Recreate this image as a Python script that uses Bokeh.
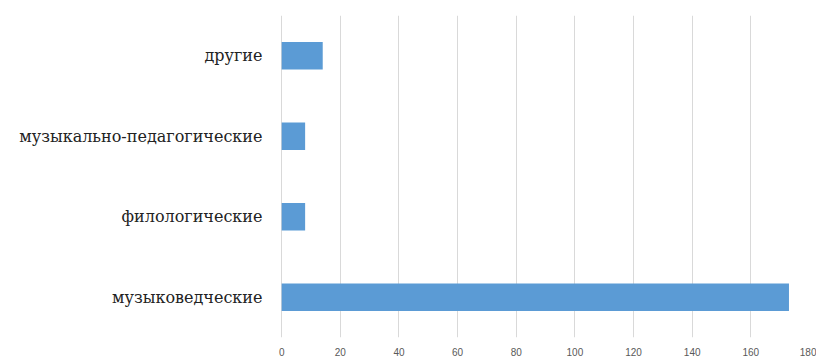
from bokeh.plotting import figure
from bokeh.models import FactorRange, Range1d, FixedTicker, ColumnDataSource
from bokeh.embed import file_html
from bokeh.resources import INLINE

categories = ["музыковедческие", "филологические", "музыкально-педагогические", "другие"]
values = [173, 8, 8, 14]
x_ticks = [0, 20, 40, 60, 80, 100, 120, 140, 160, 180]

source = ColumnDataSource(data=dict(cat=categories, val=values))

p = figure(width=816, height=358, output_backend="svg", toolbar_location=None,
           y_range=FactorRange(factors=categories, range_padding=0),
           x_range=Range1d(-0.4, 180),
           min_border_left=280, min_border_right=7, min_border_top=15, min_border_bottom=21)

p.hbar(y="cat", right="val", left=0, height=0.34, source=source,
       fill_color="#5B9BD5", line_color=None)

p.outline_line_color = None
p.background_fill_color = "white"
p.border_fill_color = "white"
p.ygrid.grid_line_color = None
p.xgrid.grid_line_color = "#D9D9D9"
p.xgrid.grid_line_width = 1

p.xaxis.ticker = FixedTicker(ticks=x_ticks)
p.xaxis.axis_line_color = None
p.xaxis.major_tick_line_color = None
p.xaxis.minor_tick_line_color = None
p.xaxis.major_tick_out = 0
p.xaxis.major_tick_in = 0
p.xaxis.major_label_standoff = 10
p.xaxis.major_label_text_font = "Liberation Sans"
p.xaxis.major_label_text_font_size = "10px"
p.xaxis.major_label_text_color = "#595959"

p.yaxis.axis_line_color = None
p.yaxis.major_tick_line_color = None
p.yaxis.minor_tick_line_color = None
p.yaxis.major_tick_out = 0
p.yaxis.major_tick_in = 0
p.yaxis.major_label_standoff = 18
p.yaxis.major_label_text_font = "DejaVu Serif"
p.yaxis.major_label_text_font_size = "16px"
p.yaxis.major_label_text_color = "#222222"

open("out.html", "w").write(file_html(p, INLINE))
